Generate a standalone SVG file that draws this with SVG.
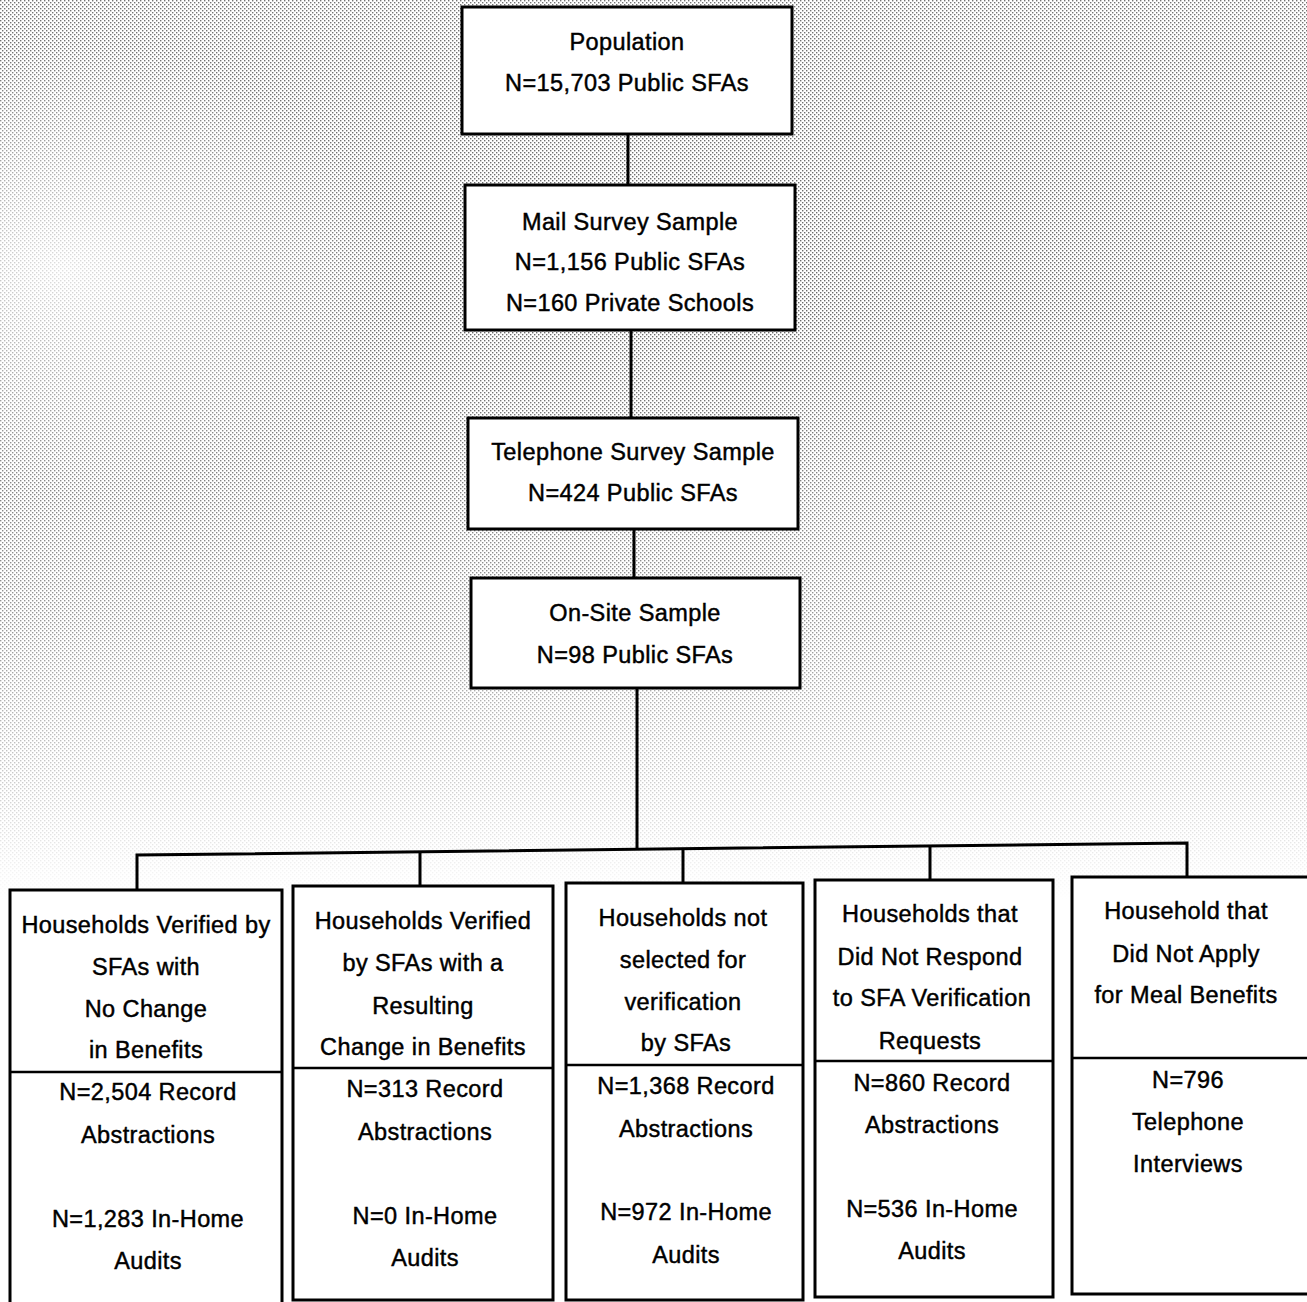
<svg xmlns="http://www.w3.org/2000/svg" width="1307" height="1302" viewBox="0 0 1307 1302">
<defs>
<pattern id="dots" width="4" height="4" patternUnits="userSpaceOnUse">
<rect x="0" y="0" width="1.4" height="1.4" fill="#444"/>
<rect x="2" y="2" width="1.4" height="1.4" fill="#444"/>
</pattern>
<linearGradient id="fade" x1="0" y1="0" x2="0" y2="1">
<stop offset="0" stop-color="#fff" stop-opacity="0.75"/>
<stop offset="0.35" stop-color="#fff" stop-opacity="0.8"/>
<stop offset="0.7" stop-color="#fff" stop-opacity="0.55"/>
<stop offset="0.88" stop-color="#fff" stop-opacity="0.25"/>
<stop offset="1" stop-color="#fff" stop-opacity="0"/>
</linearGradient>
<radialGradient id="corner" cx="0.05" cy="0.3" r="0.25">
<stop offset="0" stop-color="#000" stop-opacity="0.8"/>
<stop offset="1" stop-color="#000" stop-opacity="0"/>
</radialGradient>
<mask id="bgmask" maskUnits="userSpaceOnUse" x="0" y="0" width="1307" height="900">
<rect x="0" y="0" width="1307" height="900" fill="url(#fade)"/>
<rect x="0" y="0" width="1307" height="900" fill="url(#corner)"/>
</mask>
</defs>
<style>
.box{fill:#fff;stroke:#000;stroke-width:3}
.div{stroke:#000;stroke-width:2.5;fill:none}
.conn{stroke:#000;stroke-width:3;fill:none}
text{font-family:"Liberation Sans",Arial,sans-serif;font-size:23.5px;fill:#000;stroke:#000;stroke-width:0.45;text-anchor:middle;letter-spacing:0.4px}
</style>
<rect width="1307" height="1302" fill="#fff"/>
<rect x="0" y="0" width="1307" height="900" fill="url(#dots)" mask="url(#bgmask)"/>

<g id="connectors">
<path class="conn" d="M628 134 V185"/>
<path class="conn" d="M631 330 V418"/>
<path class="conn" d="M634 529 V578"/>
<path class="conn" d="M637 688 V849"/>
<path class="conn" d="M137 890 V855 L1187 843 V877"/>
<path class="conn" d="M420 886 V852"/>
<path class="conn" d="M683 884 V849"/>
<path class="conn" d="M930 880 V846"/>
</g>

<g id="population">
<rect class="box" x="462" y="7" width="330" height="127"/>
<text x="627" y="50">Population</text>
<text x="627" y="91">N=15,703 Public SFAs</text>
</g>

<g id="mail-survey">
<rect class="box" x="465" y="185" width="330" height="145"/>
<text x="630" y="230">Mail Survey Sample</text>
<text x="630" y="270">N=1,156 Public SFAs</text>
<text x="630" y="311">N=160 Private Schools</text>
</g>

<g id="telephone-survey">
<rect class="box" x="468" y="418" width="330" height="111"/>
<text x="633" y="460">Telephone Survey Sample</text>
<text x="633" y="501">N=424 Public SFAs</text>
</g>

<g id="on-site">
<rect class="box" x="471" y="578" width="329" height="110"/>
<text x="635" y="621">On-Site Sample</text>
<text x="635" y="663">N=98 Public SFAs</text>
</g>

<g id="verified-no-change">
<rect class="box" x="10" y="890" width="272" height="420"/>
<path class="div" d="M10 1072 H282"/>
<text x="146" y="933">Households Verified by</text>
<text x="146" y="975">SFAs with</text>
<text x="146" y="1017">No Change</text>
<text x="146" y="1058">in Benefits</text>
<text x="148" y="1100">N=2,504 Record</text>
<text x="148" y="1143">Abstractions</text>
<text x="148" y="1227">N=1,283 In-Home</text>
<text x="148" y="1269">Audits</text>
</g>

<g id="verified-change">
<rect class="box" x="293" y="886" width="260" height="414"/>
<path class="div" d="M293 1068 H553"/>
<text x="423" y="929">Households Verified</text>
<text x="423" y="971">by SFAs with a</text>
<text x="423" y="1014">Resulting</text>
<text x="423" y="1055">Change in Benefits</text>
<text x="425" y="1097">N=313 Record</text>
<text x="425" y="1140">Abstractions</text>
<text x="425" y="1224">N=0 In-Home</text>
<text x="425" y="1266">Audits</text>
</g>

<g id="not-selected">
<rect class="box" x="566" y="883" width="237" height="417"/>
<path class="div" d="M566 1065 H803"/>
<text x="683" y="926">Households not</text>
<text x="683" y="968">selected for</text>
<text x="683" y="1010">verification</text>
<text x="686" y="1051">by SFAs</text>
<text x="686" y="1094">N=1,368 Record</text>
<text x="686" y="1137">Abstractions</text>
<text x="686" y="1220">N=972 In-Home</text>
<text x="686" y="1263">Audits</text>
</g>

<g id="did-not-respond">
<rect class="box" x="815" y="880" width="238" height="417"/>
<path class="div" d="M815 1061 H1053"/>
<text x="930" y="922">Households that</text>
<text x="930" y="965">Did Not Respond</text>
<text x="932" y="1006">to SFA Verification</text>
<text x="930" y="1049">Requests</text>
<text x="932" y="1091">N=860 Record</text>
<text x="932" y="1133">Abstractions</text>
<text x="932" y="1217">N=536 In-Home</text>
<text x="932" y="1259">Audits</text>
</g>

<g id="did-not-apply">
<rect class="box" x="1072" y="877" width="245" height="417"/>
<path class="div" d="M1072 1058 H1307"/>
<text x="1186" y="919">Household that</text>
<text x="1186" y="962">Did Not Apply</text>
<text x="1186" y="1003">for Meal Benefits</text>
<text x="1188" y="1088">N=796</text>
<text x="1188" y="1130">Telephone</text>
<text x="1188" y="1172">Interviews</text>
</g>
</svg>
